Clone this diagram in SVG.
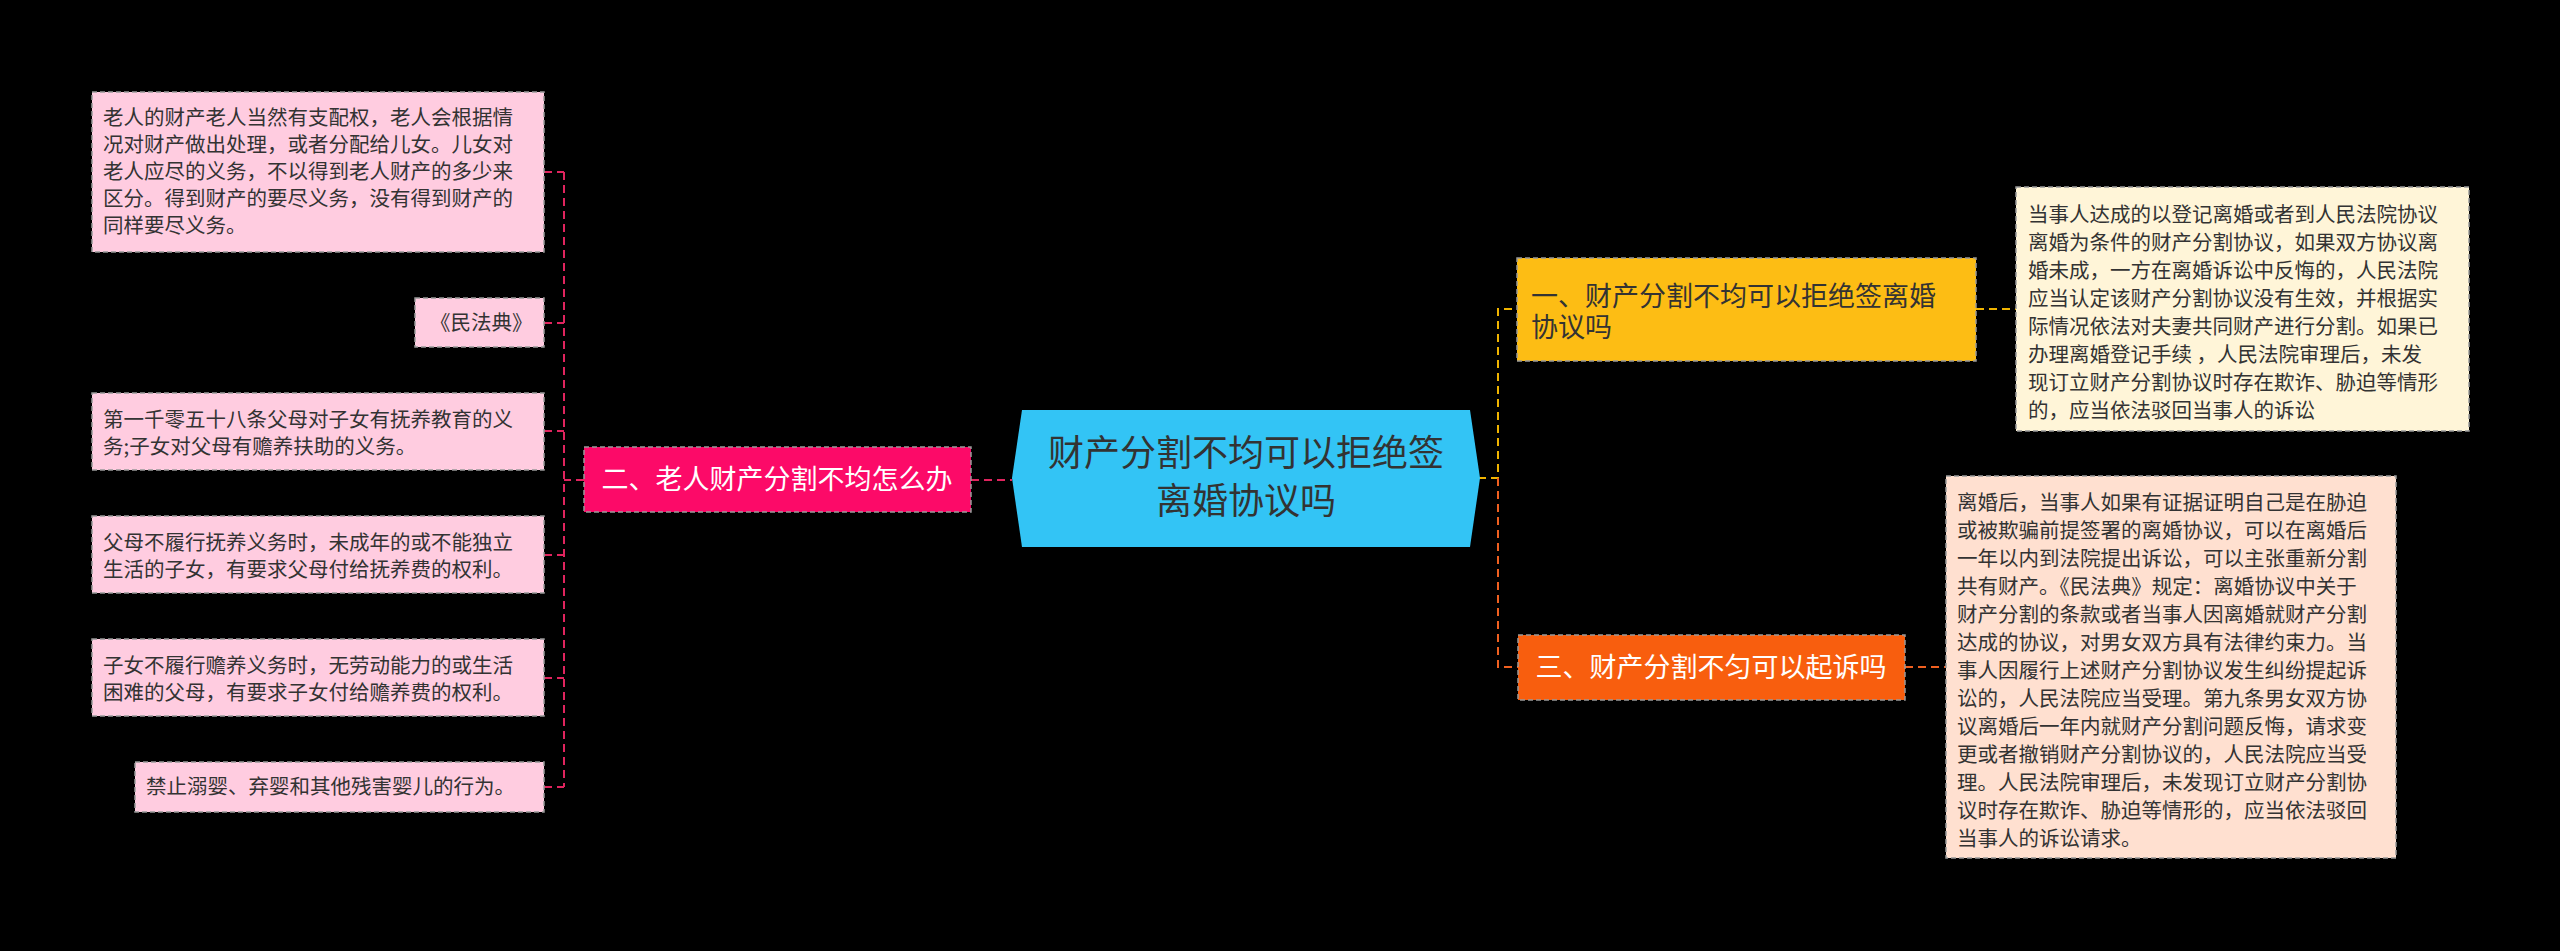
<svg xmlns="http://www.w3.org/2000/svg" width="2560" height="951" viewBox="0 0 2560 951">
<style>
text{font-family:"Noto Sans CJK SC","Noto Sans",sans-serif;}
.leaf{stroke:#999;stroke-width:1.5;stroke-dasharray:5,3}
.t{font-size:20.5px;fill:#333}
.n{font-size:27px}
.c{fill:none;stroke-width:2;stroke-dasharray:8,5}
</style>
<rect width="2560" height="951" fill="#000"/>
<g id="connectors">
<path class="c" stroke="#e0245e" d="M971 480H1012M584 480H564M564 172V787M544 172H564M544 323H564M544 431H564M544 555H564M544 678H564M544 787H564"/>
<path class="c" stroke="#f0b400" d="M1478 478H1498V309H1517M1976 309H2016"/>
<path class="c" stroke="#f06020" d="M1498 478V667H1518M1905 667H1946"/>
</g>
<g id="root"><path d="M1022 410H1470L1480 478L1470 547H1022L1012 478Z" fill="#33c4f5"/>
<text x="1246" y="466" font-size="36" fill="#333" text-anchor="middle">财产分割不均可以拒绝签</text>
<text x="1246" y="514" font-size="36" fill="#333" text-anchor="middle">离婚协议吗</text></g>
<g id="n2"><rect x="584" y="447" width="387" height="65" fill="#fc0a68" class="leaf"/>
<text class="n" x="777" y="489" fill="#fff" text-anchor="middle">二、老人财产分割不均怎么办</text></g>
<g id="n1"><rect x="1517" y="258" width="459" height="103" fill="#fdbd14" class="leaf"/>
<text class="n" fill="#333"><tspan x="1531" y="306">一、财产分割不均可以拒绝签离婚</tspan><tspan x="1531" y="337">协议吗</tspan></text></g>
<g id="n3"><rect x="1518" y="635" width="387" height="65" fill="#f85e0e" class="leaf"/>
<text class="n" x="1711" y="677" fill="#fff" text-anchor="middle">三、财产分割不匀可以起诉吗</text></g>
<g id="l1"><rect x="92" y="92" width="452" height="160" fill="#ffcce0" class="leaf"/>
<text class="t"><tspan x="103" y="125">老人的财产老人当然有支配权，老人会根据情</tspan><tspan x="103" y="152">况对财产做出处理，或者分配给儿女。儿女对</tspan><tspan x="103" y="179">老人应尽的义务，不以得到老人财产的多少来</tspan><tspan x="103" y="206">区分。得到财产的要尽义务，没有得到财产的</tspan><tspan x="103" y="233">同样要尽义务。</tspan></text></g>
<g id="l2"><rect x="415" y="298" width="129" height="49" fill="#ffcce0" class="leaf"/>
<text class="t" x="430" y="330">《民法典》</text></g>
<g id="l3"><rect x="92" y="393" width="452" height="77" fill="#ffcce0" class="leaf"/>
<text class="t"><tspan x="103" y="427">第一千零五十八条父母对子女有抚养教育的义</tspan><tspan x="103" y="454">务;子女对父母有赡养扶助的义务。</tspan></text></g>
<g id="l4"><rect x="92" y="516" width="452" height="77" fill="#ffcce0" class="leaf"/>
<text class="t"><tspan x="103" y="550">父母不履行抚养义务时，未成年的或不能独立</tspan><tspan x="103" y="577">生活的子女，有要求父母付给抚养费的权利。</tspan></text></g>
<g id="l5"><rect x="92" y="639" width="452" height="77" fill="#ffcce0" class="leaf"/>
<text class="t"><tspan x="103" y="673">子女不履行赡养义务时，无劳动能力的或生活</tspan><tspan x="103" y="700">困难的父母，有要求子女付给赡养费的权利。</tspan></text></g>
<g id="l6"><rect x="135" y="762" width="409" height="50" fill="#ffcce0" class="leaf"/>
<text class="t" x="146" y="794">禁止溺婴、弃婴和其他残害婴儿的行为。</text></g>
<g id="r1"><rect x="2016" y="187" width="453" height="244" fill="#fff5d8" class="leaf"/>
<text class="t"><tspan x="2028" y="222">当事人达成的以登记离婚或者到人民法院协议</tspan><tspan x="2028" y="250">离婚为条件的财产分割协议，如果双方协议离</tspan><tspan x="2028" y="278">婚未成，一方在离婚诉讼中反悔的，人民法院</tspan><tspan x="2028" y="306">应当认定该财产分割协议没有生效，并根据实</tspan><tspan x="2028" y="334">际情况依法对夫妻共同财产进行分割。如果已</tspan><tspan x="2028" y="362">办理离婚登记手续 ，人民法院审理后，未发</tspan><tspan x="2028" y="390">现订立财产分割协议时存在欺诈、胁迫等情形</tspan><tspan x="2028" y="418">的，应当依法驳回当事人的诉讼</tspan></text></g>
<g id="r3"><rect x="1946" y="476" width="450" height="382" fill="#ffe0d0" class="leaf"/>
<text class="t"><tspan x="1957" y="510">离婚后，当事人如果有证据证明自己是在胁迫</tspan><tspan x="1957" y="538">或被欺骗前提签署的离婚协议，可以在离婚后</tspan><tspan x="1957" y="566">一年以内到法院提出诉讼，可以主张重新分割</tspan><tspan x="1957" y="594">共有财产。《民法典》规定：离婚协议中关于</tspan><tspan x="1957" y="622">财产分割的条款或者当事人因离婚就财产分割</tspan><tspan x="1957" y="650">达成的协议，对男女双方具有法律约束力。当</tspan><tspan x="1957" y="678">事人因履行上述财产分割协议发生纠纷提起诉</tspan><tspan x="1957" y="706">讼的，人民法院应当受理。第九条男女双方协</tspan><tspan x="1957" y="734">议离婚后一年内就财产分割问题反悔，请求变</tspan><tspan x="1957" y="762">更或者撤销财产分割协议的，人民法院应当受</tspan><tspan x="1957" y="790">理。人民法院审理后，未发现订立财产分割协</tspan><tspan x="1957" y="818">议时存在欺诈、胁迫等情形的，应当依法驳回</tspan><tspan x="1957" y="846">当事人的诉讼请求。</tspan></text></g>
</svg>
